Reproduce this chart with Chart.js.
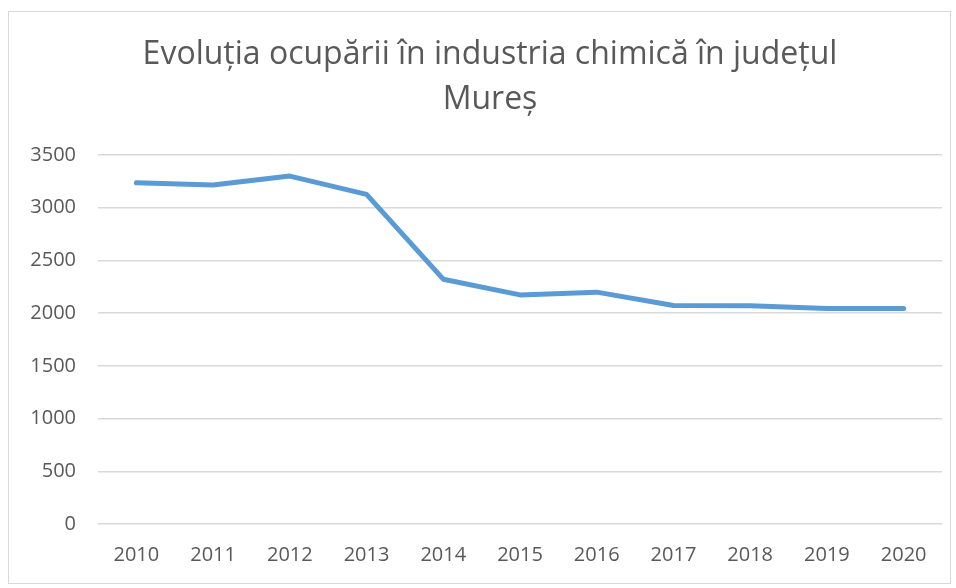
<!DOCTYPE html>
<html>
<head>
<meta charset="utf-8">
<script src="https://cdn.jsdelivr.net/npm/chart.js@4"></script>
<style>
  html, body { margin: 0; padding: 0; background: #fff; }
  #wrap { position: relative; width: 956px; height: 588px; }
  #frame { position: absolute; left: 8px; top: 11px; width: 941px; height: 571px; border: 1px solid #d9d9d9; pointer-events: none; }
  canvas { position: absolute; left: 0; top: 0; }
</style>
</head>
<body>
<div id="wrap">
  <canvas id="c" width="956" height="588"></canvas>
  <div id="frame"></div>
</div>
<script>
const categories = ['2010','2011','2012','2013','2014','2015','2016','2017','2018','2019','2020'];
const employment = [3237, 3215, 3300, 3127, 2322, 2173, 2199, 2072, 2070, 2045, 2045];
const titleLines = ['Evoluția ocupării în industria chimică în județul', 'Mureș'];
const yMin = 0, yMax = 3500, yStep = 500;

const textColor = '#595959';
const fontFamily = '"Open Sans", Lato, sans-serif';

// shift the title block so it is centred where the reference centres it
const titleShift = {
  id: 'titleShift',
  afterLayout(chart) {
    const t = chart.titleBlock;
    if (t) { t.left += 19; t.right += 19; }
  }
};

new Chart(document.getElementById('c'), {
  type: 'line',
  data: {
    labels: categories,
    datasets: [{
      data: employment,
      borderColor: '#5b9bd5',
      borderWidth: 5,
      pointRadius: 0,
      pointHoverRadius: 0,
      tension: 0,
      fill: false,
      borderJoinStyle: 'round',
      borderCapStyle: 'round'
    }]
  },
  plugins: [titleShift],
  options: {
    responsive: false,
    animation: false,
    devicePixelRatio: 1,
    layout: { padding: { top: 0, right: 14, bottom: 2, left: 0 } },
    plugins: {
      legend: { display: false },
      tooltip: { enabled: false },
      title: {
        display: true,
        text: titleLines,
        color: textColor,
        font: { family: fontFamily, size: 32, weight: 'normal', lineHeight: 1.406 },
        padding: { top: 32.5, bottom: 32.5 }
      }
    },
    scales: {
      x: {
        offset: true,
        grid: { display: false, drawTicks: false },
        border: { display: false },
        ticks: { color: textColor, font: { family: fontFamily, size: 20 }, padding: 19, maxRotation: 0 }
      },
      y: {
        min: yMin,
        max: yMax,
        ticks: {
          stepSize: yStep,
          color: textColor,
          font: { family: fontFamily, size: 20 },
          padding: 22,
          callback: (v) => String(v)
        },
        grid: { color: '#d9d9d9', lineWidth: 1.5, drawTicks: false },
        border: { display: false },
        afterFit: (s) => { s.width = 98; }
      }
    }
  }
});
</script>
</body>
</html>
